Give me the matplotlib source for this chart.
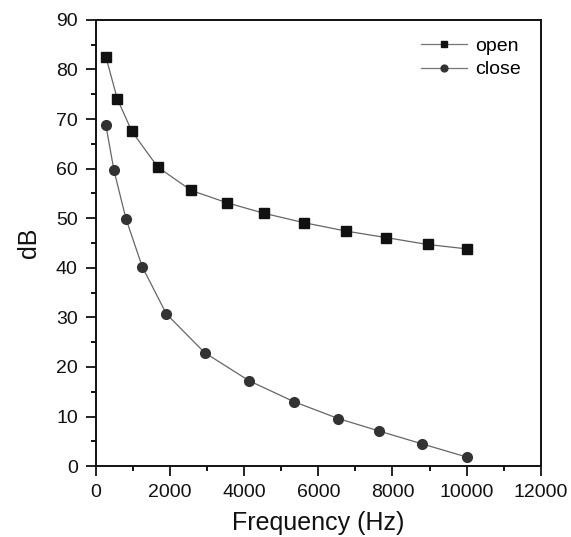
import matplotlib
matplotlib.use("Agg")
import matplotlib.pyplot as plt
from matplotlib.ticker import MultipleLocator

plt.rcParams['font.family'] = ['Liberation Sans', 'DejaVu Sans']

freq_open = [270, 575, 970, 1670, 2570, 3540, 4530, 5610, 6750, 7820, 8950, 10020]
db_open = [82.5, 74.1, 67.5, 60.3, 55.6, 53.1, 51.0, 49.1, 47.4, 46.1, 44.7, 43.8]

freq_close = [270, 485, 810, 1250, 1900, 2930, 4135, 5340, 6535, 7630, 8790, 10020]
db_close = [68.7, 59.7, 49.9, 40.2, 30.7, 22.9, 17.2, 13.0, 9.6, 7.1, 4.5, 1.8]

fig = plt.figure(figsize=(5.71, 5.37), dpi=100)
ax = fig.add_axes([0.168, 0.132, 0.779, 0.831])

ax.plot(freq_open, db_open, '-', color='#666666', lw=0.9, marker='s', ms=6.5,
        mfc='#111111', mec='#111111', label='open')
ax.plot(freq_close, db_close, '-', color='#666666', lw=0.9, marker='o', ms=7,
        mfc='#333333', mec='#333333', label='close')

ax.set_xlim(0, 12000)
ax.set_ylim(0, 90)
ax.xaxis.set_major_locator(MultipleLocator(2000))
ax.xaxis.set_minor_locator(MultipleLocator(1000))
ax.yaxis.set_major_locator(MultipleLocator(10))
ax.yaxis.set_minor_locator(MultipleLocator(5))
ax.tick_params(which='major', direction='out', length=7, width=1.3, pad=6,
               labelsize=14, colors='#111111')
ax.tick_params(which='minor', direction='out', length=3.6, width=1.3)
for s in ax.spines.values():
    s.set_linewidth(1.4)
    s.set_color('#111111')

ax.set_xlabel('Frequency (Hz)', fontsize=18, color='#111111', labelpad=7)
ax.set_ylabel('dB', fontsize=18, color='#111111', labelpad=11)

leg = ax.legend(loc='upper right', frameon=False, fontsize=14, handlelength=2.4,
                handletextpad=0.4, labelspacing=0.3, markerscale=0.7,
                bbox_to_anchor=(0.995, 1.0))
for line in leg.get_lines():
    line.set_color('#777777')

fig.savefig('out.png', dpi=100)
